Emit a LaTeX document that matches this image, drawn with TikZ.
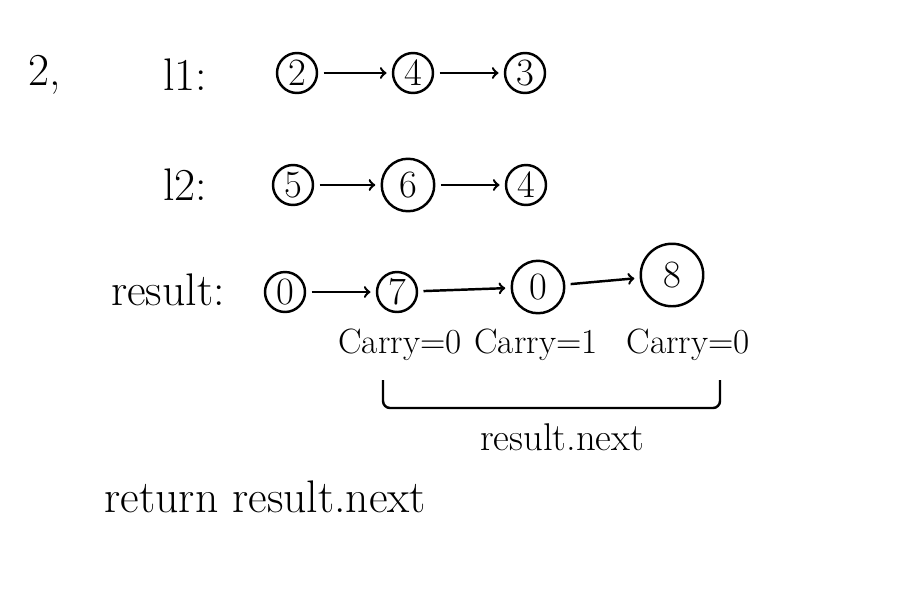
\documentclass[tikz,border=0pt]{standalone}
\usepackage{tikz}
\usetikzlibrary{arrows,shapes.misc,positioning}

\tikzset{
  num/.style={draw, circle, minimum size=0.8cm, inner sep=0pt, font=\fontsize{22}{24}\selectfont},
  bignum/.style={num, minimum size=1.05cm},
  lbl/.style={font=\fontsize{26}{28}\selectfont},
  carrylbl/.style={font=\fontsize{20}{22}\selectfont},
}

\begin{document}
\begin{tikzpicture}[->, >=to, auto, line width=1.4pt, inner sep=2pt, shorten >=3pt, shorten <=3pt]
\useasboundingbox (0,0) rectangle (18.4,-12.2);
%
\node (head) [lbl] at (0.9,-1.5) {2,};
\node (l1) [lbl] at (3.7,-1.5) {l1:};
\node (l2) [lbl] at (3.7,-3.7) {l2:};
\node (res) [lbl] at (3.36,-5.8) {result:};
%
\node (A1) [num] at (5.94,-1.46) {2};
\node (A2) [num, right of=A1, node distance=2.32cm] {4};
\node (A3) [num, right of=A2, node distance=2.24cm] {3};
%
\node (B1) [num] at (5.86,-3.7) {5};
\node (B2) [bignum, right of=B1, node distance=2.3cm] {6};
\node (B3) [num, right of=B2, node distance=2.36cm] {4};
%
\node (R1) [num] at (5.7,-5.84) {0};
\node (R2) [num, right of=R1, node distance=2.24cm] {7};
\node (R3) [bignum] at (10.76,-5.74) {0};
\node (R4) [bignum, minimum size=1.25cm] at (13.44,-5.5) {8};
%
\path (A1) edge (A2);
\path (A2) edge (A3);
\path (B1) edge (B2);
\path (B2) edge (B3);
\path (R1) edge (R2);
\path (R2) edge (R3);
\path (R3) edge (R4);
%
\node (c1) [carrylbl] at (8.0,-6.9) {Carry=0};
\node (c2) [carrylbl] at (10.72,-6.9) {Carry=1};
\node (c3) [carrylbl] at (13.76,-6.9) {Carry=0};
%
\coordinate (brL) at (7.66,-7.6);
\coordinate (brR) at (14.4,-7.6);
\draw [-, shorten >=0pt, shorten <=0pt, rounded corners=4pt] (brL) -- ++(0,-0.56) -| (brR);
\node (nxt) [lbl, font=\fontsize{22}{24}\selectfont] at (11.24,-8.74) {result.next};
%
\node (ret) [lbl, anchor=west] at (2.0,-9.94) {return result.next};
\end{tikzpicture}
\end{document}
